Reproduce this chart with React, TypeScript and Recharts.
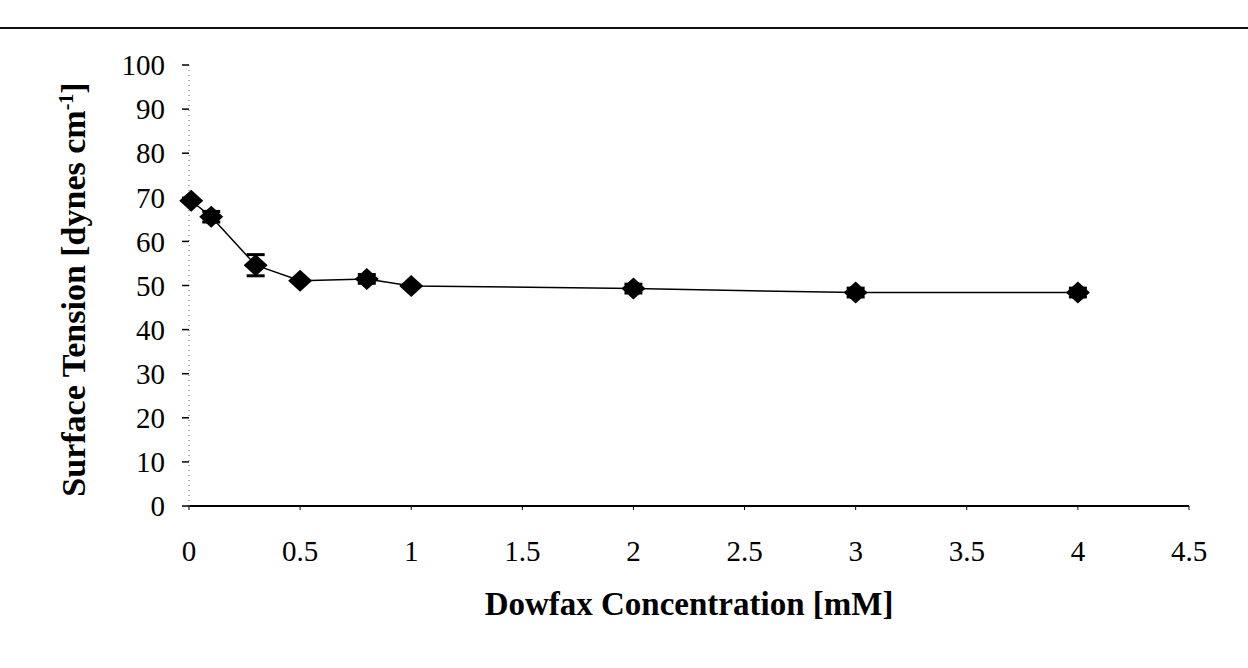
import React from 'react';
import { ScatterChart, Scatter, XAxis, YAxis, ErrorBar, Label } from 'recharts';

// Dowfax concentration [mM] and measured surface tension [dynes/cm]
const concentration = [0.01, 0.1, 0.3, 0.5, 0.8, 1, 2, 3, 4];
const tension = [69.2, 65.6, 54.6, 51.1, 51.5, 49.9, 49.3, 48.4, 48.4];
const tensionError = [0, 1.2, 2.4, 0, 1, 0, 1, 1, 1];

const xTicks = [0, 0.5, 1, 1.5, 2, 2.5, 3, 3.5, 4, 4.5];
const yTicks = [0, 10, 20, 30, 40, 50, 60, 70, 80, 90, 100];

const points = concentration.map((c, i) => ({ c, t: tension[i], err: tensionError[i] }));

const FONT = '"Liberation Serif", "Times New Roman", serif';

const Diamond = (props: any) => {
  const { cx, cy } = props;
  if (cx == null || cy == null) return null;
  const w = 12;
  const h = 11;
  return (
    <polygon
      points={`${cx},${cy - h} ${cx + w},${cy} ${cx},${cy + h} ${cx - w},${cy}`}
      fill="#000"
    />
  );
};

const YTitle = ({ viewBox }: any) => {
  const cx = 85;
  const cy = viewBox.y + viewBox.height / 2 + 4;
  return (
    <text
      x={cx}
      y={cy}
      transform={`rotate(-90, ${cx}, ${cy})`}
      textAnchor="middle"
      fontFamily={FONT}
      fontWeight="bold"
      fontSize={34}
      fill="#000"
    >
      Surface Tension [dynes cm
      <tspan dy={-12} fontSize={20}>-1</tspan>
      <tspan dy={12}>]</tspan>
    </text>
  );
};

const XTitle = ({ viewBox }: any) => (
  <text
    x={viewBox.x + viewBox.width / 2}
    y={viewBox.y + 109}
    textAnchor="middle"
    fontFamily={FONT}
    fontWeight="bold"
    fontSize={33}
    fill="#000"
  >
    Dowfax Concentration [mM]
  </text>
);

export default function App() {
  return (
    <div style={{ position: 'absolute', left: 0, top: 0, width: 1248, height: 668, background: '#fff' }}>
      <div style={{ position: 'absolute', left: 0, top: 27, width: 1248, borderTop: '2px solid #111' }} />
      <ScatterChart
        width={1248}
        height={668}
        margin={{ top: 65, right: 59, bottom: 0, left: 0 }}
      >
        <XAxis
          type="number"
          dataKey="c"
          domain={[0, 4.5]}
          ticks={xTicks}
          interval={0}
          height={162}
          axisLine={{ stroke: '#000', strokeWidth: 2 }}
          tickLine={{ stroke: '#000', strokeWidth: 1 }}
          tickSize={4}
          tickMargin={30}
          tick={{ fill: '#000', fontFamily: FONT, fontSize: 29 }}
        >
          <Label content={XTitle} />
        </XAxis>
        <YAxis
          type="number"
          dataKey="t"
          domain={[0, 100]}
          ticks={yTicks}
          interval={0}
          width={189}
          axisLine={{ stroke: '#666', strokeWidth: 1, strokeDasharray: '1 4' }}
          tickLine={{ stroke: '#000', strokeWidth: 1.5 }}
          tickSize={7}
          tickMargin={17}
          tick={{ fill: '#000', fontFamily: FONT, fontSize: 29 }}
        >
          <Label content={YTitle} />
        </YAxis>
        <Scatter
          data={points}
          isAnimationActive={false}
          line={{ stroke: '#000', strokeWidth: 1.5 }}
          shape={Diamond}
        >
          <ErrorBar dataKey="err" direction="y" width={9} strokeWidth={3} stroke="#000" />
        </Scatter>
      </ScatterChart>
    </div>
  );
}
